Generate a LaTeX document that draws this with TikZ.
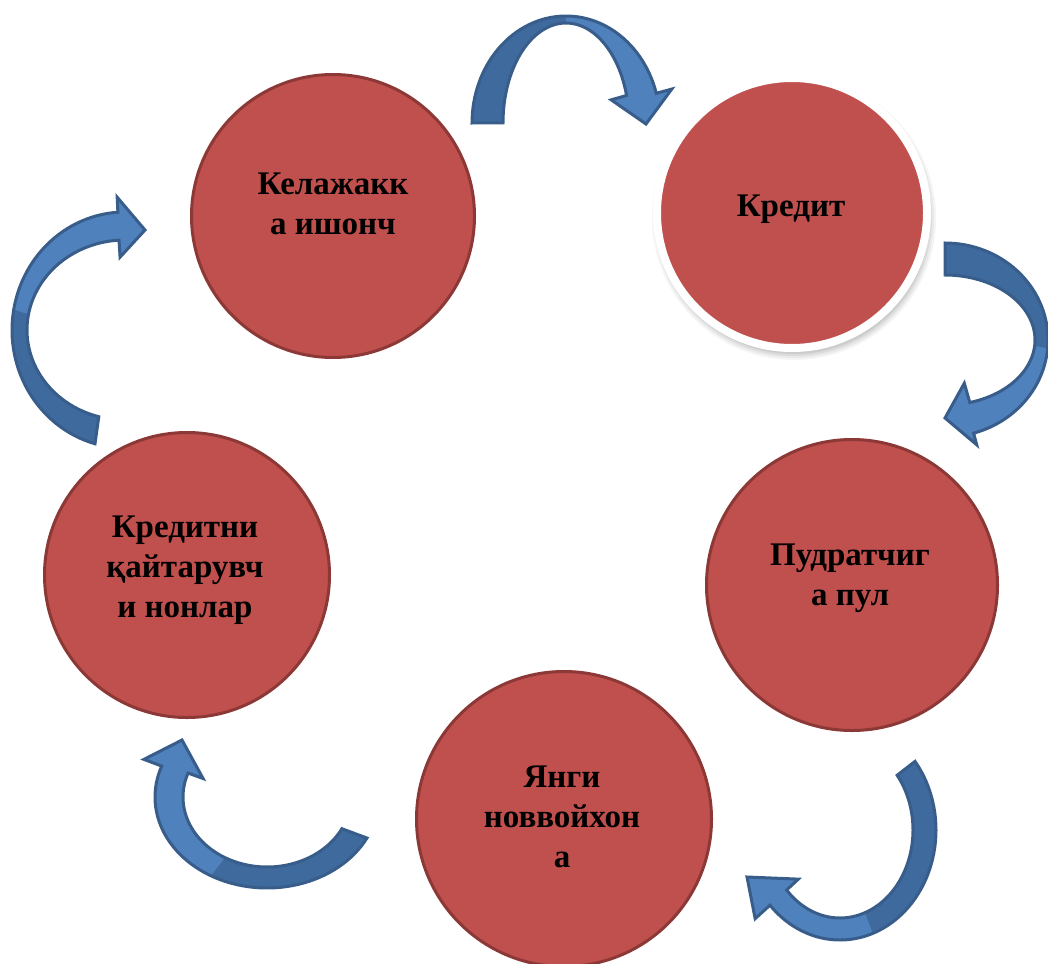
\documentclass[tikz,border=0pt]{standalone}
\usepackage{fontspec}
\setmainfont{Liberation Serif}
\definecolor{cfill}{HTML}{C0504D}
\definecolor{cline}{HTML}{8C3836}
\definecolor{alight}{HTML}{4F81BD}
\definecolor{adark}{HTML}{3F6A9E}
\definecolor{aline}{HTML}{385D8A}
\newcommand\arrset[6]{\def\acx{#1}\def\acy{#2}\def\arxo{#3}\def\aryo{#4}\def\arxi{#5}\def\aryi{#6}}
% #1 start angle, #2 end angle, #3 outer flare, #4 inner flare, #5 #6 tip
\newcommand\arrpath[6]{%
 plot[domain=0:1,samples=60] ({\acx+\arxo*cos((#1)+((#2)-(#1))*\x)},{\acy+\aryo*sin((#1)+((#2)-(#1))*\x)})
 -- ({\acx+(\arxo+#3)*cos(#2)},{\acy+(\aryo+#3)*sin(#2)})
 -- (#5,#6)
 -- ({\acx+(\arxi-#4)*cos(#2)},{\acy+(\aryi-#4)*sin(#2)})
 -- plot[domain=0:1,samples=60] ({\acx+\arxi*cos((#2)+((#1)-(#2))*\x)},{\acy+\aryi*sin((#2)+((#1)-(#2))*\x)})
 -- cycle}
\newcommand\darkpart[2]{%
 plot[domain=0:1,samples=40] ({\acx+\arxo*cos((#1)+((#2)-(#1))*\x)},{\acy+\aryo*sin((#1)+((#2)-(#1))*\x)})
 -- plot[domain=0:1,samples=40] ({\acx+\arxi*cos((#2)+((#1)-(#2))*\x)},{\acy+\aryi*sin((#2)+((#1)-(#2))*\x)})
 -- cycle}
% #1 start, #2 twist, #3 end, #4 fo, #5 fi, #6 #7 tip
\newcommand\ribbon[7]{%
 \fill[alight] \arrpath{#1}{#3}{#4}{#5}{#6}{#7};
 \fill[adark] \darkpart{#1}{#2};
 \draw[aline,line width=3pt,line join=miter] \arrpath{#1}{#3}{#4}{#5}{#6}{#7};}
\tikzset{
 bubble/.style={circle,fill=cfill,draw=cline,line width=3pt,inner sep=0pt,outer sep=0pt},
 label/.style={align=center,font=\fontsize{33}{40}\selectfont\bfseries,text=black,inner sep=0pt}
}
\begin{document}
\begin{tikzpicture}[x=1pt,y=-1pt]
\useasboundingbox (0,0) rectangle (1048,963);
% soft shadow of the second circle
\foreach \r/\o in {142/0.04,140/0.05,138/0.06,136/0.07}{
 \fill[black,opacity=\o] (794,218) circle (\r);
}
\node[bubble,minimum size=283pt] (c1) at (333,216) {};
\node[circle,fill=cfill,draw=white,line width=8pt,inner sep=0pt,minimum size=270pt] (c2) at (792,213) {};
\node[bubble,minimum size=291pt] (c3) at (852,585) {};
\node[bubble,minimum size=295pt] (c4) at (564,819) {};
\node[bubble,minimum size=285pt] (c5) at (187,575) {};
\node[label] (t1) at (333,204) {Келажакк\\а ишонч};
\node[label] (t2) at (791,209.5) {Кредит};
\node[label] (t3) at (850,578) {Пудратчиг\\а пул};
\node[label] (t4) at (562,816.5) {Янги\\новвойхон\\а};
\node[label] (t5) at (185,570.5) {Кредитни\\қайтарувч\\и нонлар};
% arrows
\arrset{566}{123}{94}{107}{63}{100}
\ribbon{180}{270}{344}{16}{16}{646}{124}
\arrset{945}{340}{103}{97}{90}{65}
\ribbon{-90}{5}{74}{12}{20}{945}{418}
\arrset{840}{830}{96}{110}{73}{88}
\ribbon{-38.6}{70}{137}{20}{16}{747}{877}
\arrset{267}{797}{112}{91}{84}{70}
\ribbon{26.8}{120}{200}{19}{16}{182}{740}
\arrset{125}{330}{113}{118}{98}{90}
\ribbon{105.4}{190}{266.5}{15}{17}{145}{230}
\end{tikzpicture}
\end{document}
